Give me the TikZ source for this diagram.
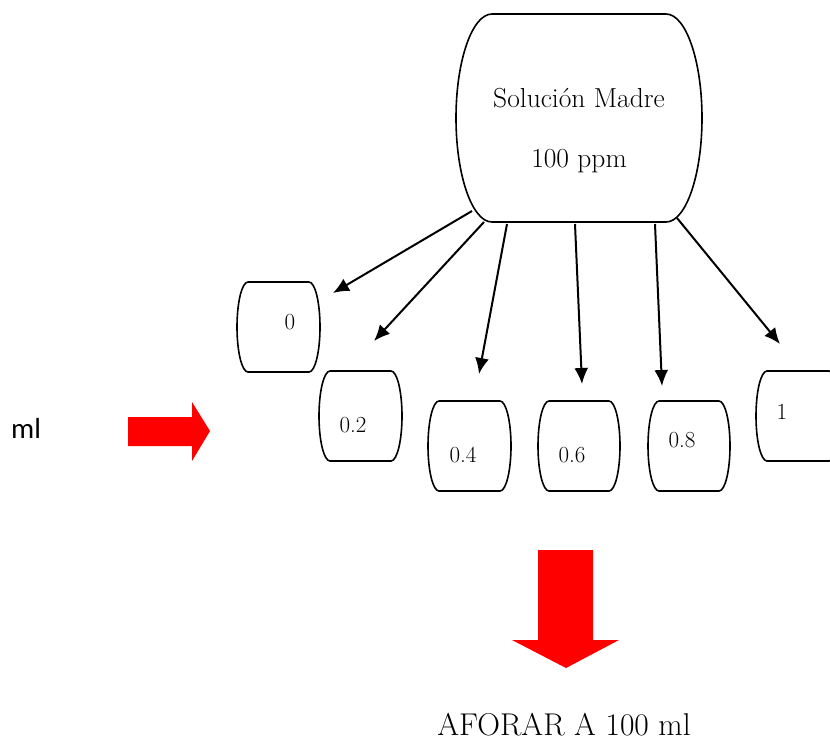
\documentclass[tikz,border=0pt]{standalone}
\usepackage{fontspec}
\newfontfamily\calfont{Carlito}
\usetikzlibrary{arrows.meta}
\newcommand\vesselpath[5]{%
\draw[vline] (#1+#5,#2) -- (#3-#5,#2)
 .. controls (#3-0.45*#5,#2) and (#3,{(#2+#4)/2-0.276*(#4-#2)}) .. (#3,{(#2+#4)/2})
 .. controls (#3,{(#2+#4)/2+0.276*(#4-#2)}) and (#3-0.45*#5,#4) .. (#3-#5,#4)
 -- (#1+#5,#4)
 .. controls (#1+0.45*#5,#4) and (#1,{(#2+#4)/2+0.276*(#4-#2)}) .. (#1,{(#2+#4)/2})
 .. controls (#1,{(#2+#4)/2-0.276*(#4-#2)}) and (#1+0.45*#5,#2) .. (#1+#5,#2) -- cycle;}
\begin{document}
\begin{tikzpicture}[x=1pt,y=-1pt,
  vline/.style={line width=1.6pt, line join=round},
  conn/.style={line width=2pt,-{Latex[length=16pt,width=14pt]}},
  redshape/.style={fill=red, draw=none},
  lbl/.style={font=\fontsize{23}{27}\selectfont, inner sep=0, anchor=base},
  biglbl/.style={font=\fontsize{27.5}{32}\selectfont, inner sep=0, anchor=base}]
\useasboundingbox (0,0) rectangle (830,740);

% vessels
\vesselpath{456}{14}{702}{222}{36}
\vesselpath{237}{282}{320}{372}{11}
\vesselpath{319}{371}{402}{461}{11}
\vesselpath{428}{401}{511}{491}{11}
\vesselpath{538}{401}{620}{491}{11}
\vesselpath{648}{401}{730}{491}{11}
\vesselpath{756}{371}{840}{461}{11}

% labels
\node[biglbl] (madre) at (579,107) {Solución Madre};
\node[biglbl] (ppm) at (579,167) {100 ppm};
\node[lbl] (v0) at (290,329) {0};
\node[lbl] (v02) at (353,432) {0.2};
\node[lbl] (v04) at (463,462) {0.4};
\node[lbl] (v06) at (572,462) {0.6};
\node[lbl] (v08) at (682,447) {0.8};
\node[lbl] (v1) at (782,419) {1};
\node[font=\calfont\fontsize{29}{33}\selectfont, inner sep=0, anchor=base] (ml) at (26,438) {ml};
\node[font=\fontsize{31.5}{36}\selectfont, inner sep=0, anchor=base] (aforar) at (564,735) {AFORAR A 100 ml};

% connectors
\coordinate (s1) at (472,211); \coordinate (e1) at (333,293);
\coordinate (s2) at (484,222); \coordinate (e2) at (374,341);
\coordinate (s3) at (507,224); \coordinate (e3) at (479,374);
\coordinate (s4) at (575,224); \coordinate (e4) at (582,384);
\coordinate (s5) at (655,224); \coordinate (e5) at (662,386);
\coordinate (s6) at (677,218); \coordinate (e6) at (780,344);
\foreach \i in {1,...,6} \draw[conn] (s\i) -- (e\i);

% red arrows
\fill[redshape] (128,417) -- (192,417) -- (192,402) -- (210,431) -- (192,461) -- (192,446) -- (128,446) -- cycle;
\fill[redshape] (538,550) -- (593,550) -- (593,640) -- (619,640) -- (566,668) -- (512,640) -- (538,640) -- cycle;
\end{tikzpicture}
\end{document}
